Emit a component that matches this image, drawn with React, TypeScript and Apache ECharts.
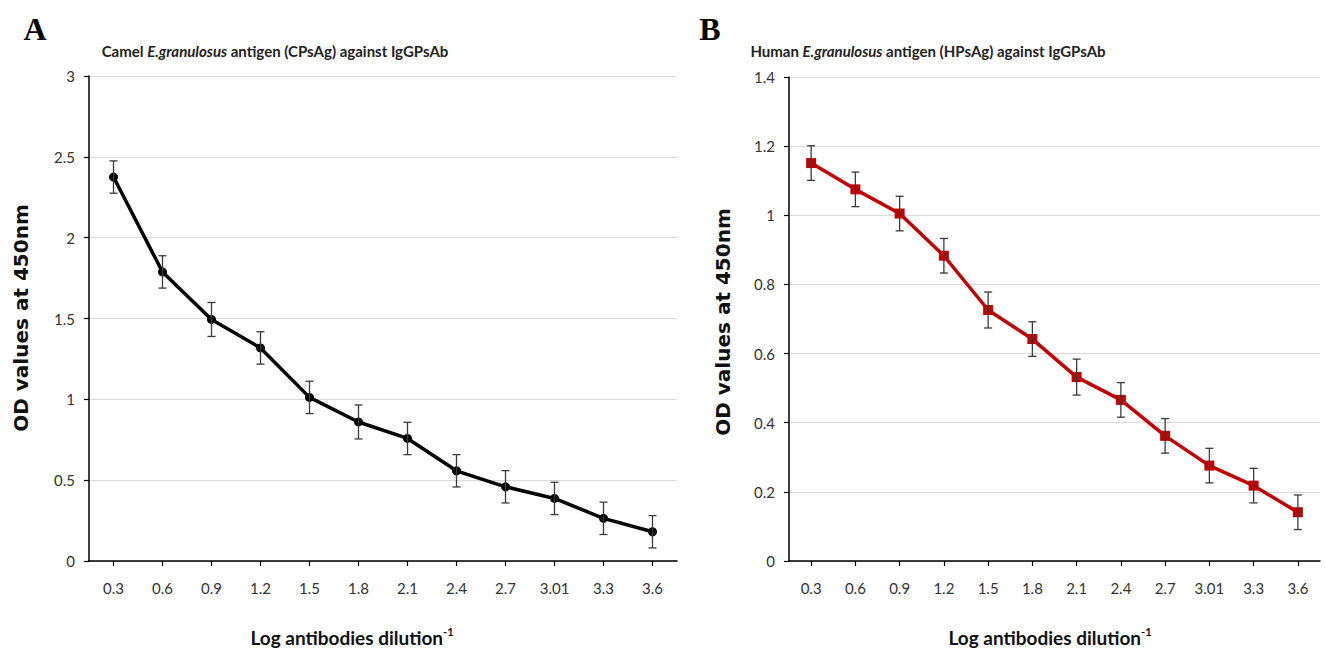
import React, { useEffect, useRef } from "react";
import * as echarts from "echarts";

const categories = ["0.3", "0.6", "0.9", "1.2", "1.5", "1.8", "2.1", "2.4", "2.7", "3.01", "3.3", "3.6"];
const camelOD = [2.375, 1.788, 1.494, 1.318, 1.012, 0.86, 0.758, 0.558, 0.459, 0.387, 0.264, 0.181];
const camelErr = [0.1, 0.1, 0.105, 0.1, 0.1, 0.105, 0.1, 0.1, 0.1, 0.1, 0.1, 0.1];
const humanOD = [1.151, 1.075, 1.005, 0.883, 0.726, 0.642, 0.532, 0.466, 0.362, 0.276, 0.218, 0.141];
const humanErr = [0.05, 0.05, 0.05, 0.05, 0.052, 0.05, 0.052, 0.05, 0.05, 0.05, 0.05, 0.05];
const camelTicks = { min: 0, max: 3, interval: 0.5 };
const humanTicks = { min: 0, max: 1.4, interval: 0.2 };

const TICK_FONT = "Lato";
const errColor = "#3a3a3a";

function errorBars(values: number[], errs: number[], axisIndex: number) {
  return {
    type: "custom",
    xAxisIndex: axisIndex,
    yAxisIndex: axisIndex,
    z: 5,
    silent: true,
    data: values.map((v, i) => [i, v - errs[i], v + errs[i]]),
    encode: { x: 0, y: [1, 2] },
    renderItem: (params: any, api: any) => {
      const idx = api.value(0);
      const top = api.coord([idx, api.value(2)]);
      const bot = api.coord([idx, api.value(1)]);
      const w = 4;
      const st = { stroke: errColor, lineWidth: 1.3 };
      return {
        type: "group",
        children: [
          { type: "line", shape: { x1: top[0], y1: top[1], x2: bot[0], y2: bot[1] }, style: st },
          { type: "line", shape: { x1: top[0] - w, y1: top[1], x2: top[0] + w, y2: top[1] }, style: st },
          { type: "line", shape: { x1: bot[0] - w, y1: bot[1], x2: bot[0] + w, y2: bot[1] }, style: st },
        ],
      };
    },
  };
}

function xAxis(gridIndex: number) {
  return {
    type: "category",
    gridIndex,
    data: categories,
    boundaryGap: true,
    axisLine: { show: true, lineStyle: { color: "#000", width: 1.5 } },
    axisTick: { show: true, alignWithLabel: true, length: 5, lineStyle: { color: "#000", width: 1.2 } },
    axisLabel: { margin: 19, fontFamily: TICK_FONT, fontSize: 15, color: "#333" },
    splitLine: { show: false },
  };
}

function yAxis(gridIndex: number, t: { min: number; max: number; interval: number }) {
  return {
    type: "value",
    gridIndex,
    min: t.min,
    max: t.max,
    interval: t.interval,
    axisLine: { show: true, lineStyle: { color: "#000", width: 1.5 } },
    axisTick: { show: true, length: 5, lineStyle: { color: "#000", width: 1.2 } },
    axisLabel: { margin: 14, fontFamily: TICK_FONT, fontSize: 15, color: "#333" },
    splitLine: { show: true, lineStyle: { color: "#d9d9d9", width: 1.2 } },
  };
}

const titleRich = {
  b: { fontFamily: "Lato", fontWeight: "bold", fontSize: 15, fill: "#222", fontStyle: "normal" },
  i: { fontFamily: "Lato", fontWeight: "bold", fontSize: 15, fill: "#222", fontStyle: "italic" },
};
const xTitleRich = {
  b: { fontFamily: "Lato", fontWeight: "bold", fontSize: 19, fill: "#111", lineHeight: 22 },
  s: { fontFamily: "Lato", fontWeight: "bold", fontSize: 11, fill: "#111", verticalAlign: "top", lineHeight: 22 },
};

export default function App() {
  const ref = useRef<HTMLDivElement>(null);
  useEffect(() => {
    document.body.style.margin = "0";
    if (!ref.current) return;
    const chart = echarts.init(ref.current, undefined, { renderer: "svg" });
    chart.setOption({
      animation: false,
      backgroundColor: "#fff",
      grid: [
        { left: 89, top: 76, width: 588, height: 485 },
        { left: 789, top: 77, width: 531, height: 484 },
      ],
      xAxis: [xAxis(0), xAxis(1)],
      yAxis: [yAxis(0, camelTicks), yAxis(1, humanTicks)],
      series: [
        {
          type: "line",
          xAxisIndex: 0,
          yAxisIndex: 0,
          data: camelOD,
          symbol: "circle",
          symbolSize: 9,
          lineStyle: { color: "#000", width: 3.5 },
          itemStyle: { color: "#000" },
          z: 3,
        },
        errorBars(camelOD, camelErr, 0),
        {
          type: "line",
          xAxisIndex: 1,
          yAxisIndex: 1,
          data: humanOD,
          symbol: "rect",
          symbolSize: 10,
          lineStyle: { color: "#c00000", width: 3.5 },
          itemStyle: { color: "#c00000" },
          z: 3,
        },
        errorBars(humanOD, humanErr, 1),
      ],
      graphic: [
        { type: "text", x: 35, y: 29, style: { text: "A", font: "bold 32px 'Liberation Serif'", fill: "#000", align: "center", verticalAlign: "middle" } },
        { type: "text", x: 710, y: 29, style: { text: "B", font: "bold 32px 'Liberation Serif'", fill: "#000", align: "center", verticalAlign: "middle" } },
        {
          type: "text", x: 275, y: 51,
          style: { text: "{b|Camel }{i|E.granulosus}{b| antigen (CPsAg) against IgGPsAb}", rich: titleRich, align: "center", verticalAlign: "middle" },
        },
        {
          type: "text", x: 928, y: 51,
          style: { text: "{b|Human }{i|E.granulosus}{b| antigen (HPsAg) against IgGPsAb}", rich: titleRich, align: "center", verticalAlign: "middle" },
        },
        {
          type: "text", x: 352, y: 637,
          style: { text: "{b|Log antibodies dilution}{s|-1}", rich: xTitleRich, align: "center", verticalAlign: "middle" },
        },
        {
          type: "text", x: 1050, y: 637,
          style: { text: "{b|Log antibodies dilution}{s|-1}", rich: xTitleRich, align: "center", verticalAlign: "middle" },
        },
        {
          type: "text", x: 21, y: 318, rotation: Math.PI / 2,
          style: { text: "OD values at 450nm", font: "bold 20px 'DejaVu Sans'", fill: "#111", align: "center", verticalAlign: "middle" },
        },
        {
          type: "text", x: 723, y: 322, rotation: Math.PI / 2,
          style: { text: "OD values at 450nm", font: "bold 20px 'DejaVu Sans'", fill: "#111", align: "center", verticalAlign: "middle" },
        },
      ],
    });
    return () => chart.dispose();
  }, []);
  return <div ref={ref} style={{ width: 1325, height: 652 }} />;
}
